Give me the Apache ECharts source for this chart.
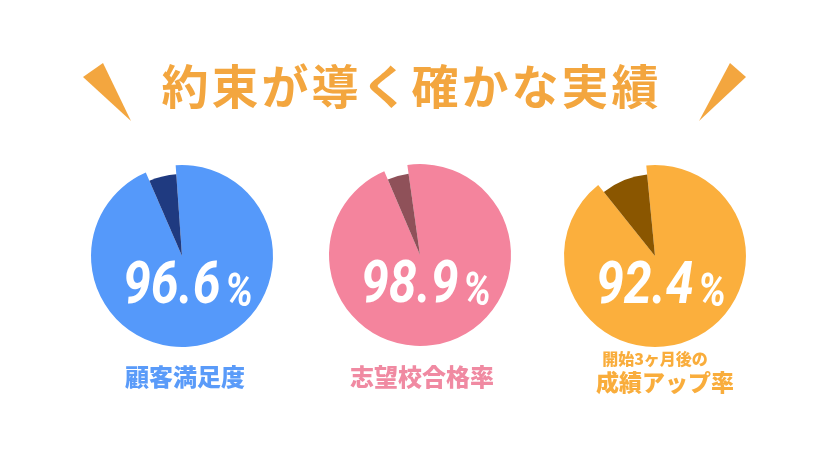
<!DOCTYPE html>
<html><head><meta charset="utf-8">
<script src="https://cdn.jsdelivr.net/npm/echarts@6/dist/echarts.min.js"></script>
<style>html,body{margin:0;padding:0;background:#fff}#c{width:840px;height:454px}</style>
</head><body><div id="c"></div>
<script>
const titleText = '約束が導く確かな実績';
const categories = ['顧客満足度', '志望校合格率', '開始3ヶ月後の\n成績アップ率'];
const percentLabels = ['96.6', '98.9', '92.4'];
// slice shares as drawn in the picture (main / dark)
const mainShare = [94.6, 95.8, 90.8];
const darkShare = [5.4, 4.2, 9.2];

const mainColors = ['#5599FA', '#F4849D', '#FBAF3D'];
const darkColors = ['#1F3A80', '#8F5159', '#8A5600'];
const textColors = ['#5A9BF9', '#F08AA2', '#F9AD3C'];
const centers = [[182, 256], [420, 255], [655, 256]];
const startAngles = [94, 98, 95.5];

const chart = echarts.init(document.getElementById('c'), null, {renderer: 'canvas'});
const series = [];
const graphic = [];
const orange = '#F3A63F';
const numFont = 'Roboto, "DejaVu Sans", sans-serif';
const cjk = '"Noto Sans CJK JP", sans-serif';

centers.forEach((c, i) => {
  series.push({
    type: 'pie', silent: true, animation: false, center: c, radius: [0, 91],
    startAngle: startAngles[i], clockwise: true, label: {show: false}, labelLine: {show: false},
    data: [
      {value: mainShare[i], itemStyle: {color: mainColors[i]}},
      {value: darkShare[i], itemStyle: {color: 'rgba(0,0,0,0)'}}
    ]
  });
  series.push({
    type: 'pie', silent: true, animation: false, center: c, radius: [0, 82],
    startAngle: startAngles[i], clockwise: true, label: {show: false}, labelLine: {show: false},
    data: [
      {value: mainShare[i], itemStyle: {color: 'rgba(0,0,0,0)'}},
      {value: darkShare[i], itemStyle: {color: darkColors[i]}}
    ]
  });
  graphic.push({
    type: 'text', x: c[0] + 6, y: c[1] + 32, z: 10, scaleX: 0.85,
    style: {
      text: '{n|' + percentLabels[i] + '}{p|%}',
      align: 'center', verticalAlign: 'middle',
      rich: {
        n: {fontFamily: numFont, fontWeight: 'bold', fontStyle: 'italic', fontSize: 59, fill: '#fff', padding: [0, 5, 0, 0], verticalAlign: 'bottom'},
        p: {fontFamily: numFont, fontWeight: 'bold', fontStyle: 'italic', fontSize: 46, fill: '#fff', verticalAlign: 'bottom'}
      }
    }
  });
});

// category labels
graphic.push({type: 'text', x: 185, y: 377, style: {text: categories[0], align: 'center', verticalAlign: 'middle', fontFamily: cjk, fontWeight: 900, fontSize: 24, fill: textColors[0]}});
graphic.push({type: 'text', x: 422, y: 377, style: {text: categories[1], align: 'center', verticalAlign: 'middle', fontFamily: cjk, fontWeight: 900, fontSize: 24, fill: textColors[1]}});
const lines3 = categories[2].split('\n');
graphic.push({type: 'text', x: 655, y: 359, style: {text: lines3[0], align: 'center', verticalAlign: 'middle', fontFamily: cjk, fontWeight: 900, fontSize: 16, fill: textColors[2]}});
graphic.push({type: 'text', x: 665, y: 382, style: {text: lines3[1], align: 'center', verticalAlign: 'middle', fontFamily: cjk, fontWeight: 900, fontSize: 23, fill: textColors[2]}});

// title (spaced characters)
const titleRich = titleText.split('').map(ch => '{c|' + ch + '}').join('');
graphic.push({type: 'text', x: 410, y: 86, style: {text: titleRich, align: 'center', verticalAlign: 'middle',
  rich: {c: {fontFamily: cjk, fontWeight: 'bold', fontSize: 47, fill: orange, padding: [0, 1.5, 0, 1.5]}}}});
// decorative triangles
graphic.push({type: 'polygon', shape: {points: [[83, 77], [103, 63], [131, 121]]}, style: {fill: orange}});
graphic.push({type: 'polygon', shape: {points: [[699, 121], [730, 63], [746, 77]]}, style: {fill: orange}});

chart.setOption({animation: false, backgroundColor: '#fff', series, graphic});
</script></body></html>
